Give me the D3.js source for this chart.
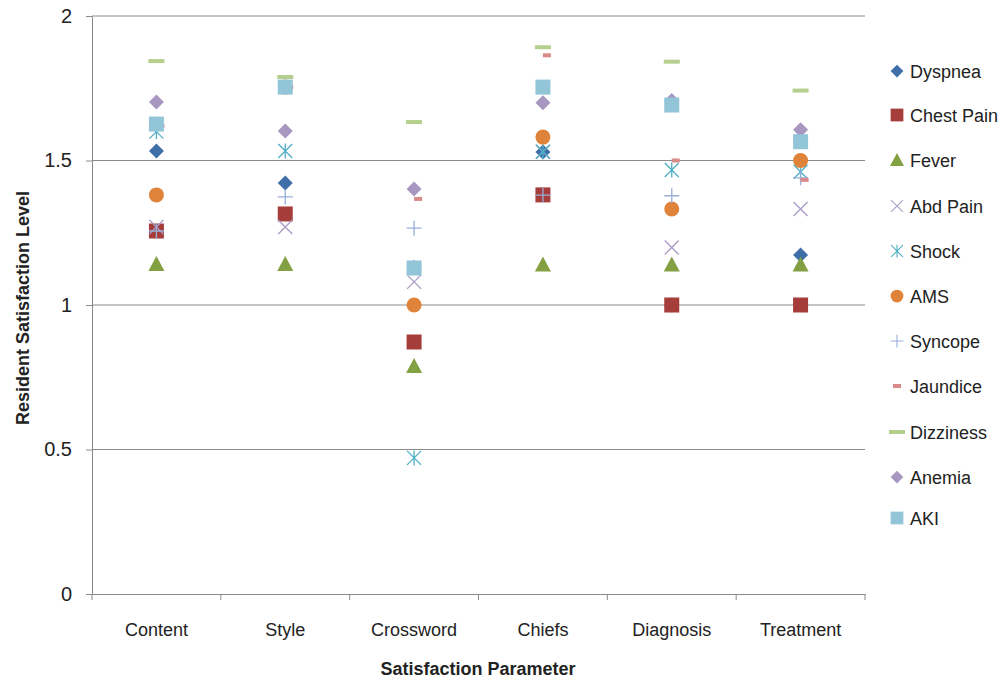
<!DOCTYPE html>
<html><head><meta charset="utf-8">
<script src="https://cdn.jsdelivr.net/npm/d3@7/dist/d3.min.js"></script>
<style>body{margin:0;background:#fff;font-family:"Liberation Sans",Arial,sans-serif;}</style>
</head><body><svg id="c" width="1002" height="683"></svg>
<script>
const categories = ["Content","Style","Crossword","Chiefs","Diagnosis","Treatment"];
const seriesNames = ["Dyspnea","Chest Pain","Fever","Abd Pain","Shock","AMS","Syncope","Jaundice","Dizziness","Anemia","AKI"];
const dyspnea   = [1.533,1.422,1.13,1.529,1.0,1.173];
const chestPain = [1.256,1.315,0.872,1.381,1.0,1.0];
const fever     = [1.142,1.142,0.789,1.140,1.140,1.140];
const abdPain   = [1.27,1.27,1.08,1.53,1.199,1.332];
const shock     = [1.60,1.533,0.471,1.53,1.467,1.461];
const ams       = [1.381,1.754,1.0,1.581,1.332,1.50];
const syncope   = [1.256,1.374,1.266,1.38,1.378,1.44];
const jaundice  = [1.62,1.754,1.367,1.864,1.50,1.433];
const dizziness = [1.844,1.789,1.633,1.892,1.842,1.742];
const anemia    = [1.702,1.602,1.401,1.70,1.708,1.606];
const aki       = [1.626,1.754,1.128,1.754,1.692,1.565];
const yTicks = [0,0.5,1,1.5,2];
const yTickLabels = ["0","0.5","1","1.5","2"];

const allValues = [dyspnea,chestPain,fever,abdPain,shock,ams,syncope,jaundice,dizziness,anemia,aki];
const styles = {
  "Dyspnea":{shape:"diamond",color:"#3F6FA9"},
  "Chest Pain":{shape:"square",color:"#A53D3B"},
  "Fever":{shape:"triangle",color:"#83A043"},
  "Abd Pain":{shape:"x",color:"#A99BC6"},
  "Shock":{shape:"star",color:"#4FAFC6"},
  "AMS":{shape:"circle",color:"#E0833A"},
  "Syncope":{shape:"plus",color:"#99AEDA"},
  "Jaundice":{shape:"sdash",color:"#D98A89"},
  "Dizziness":{shape:"dash",color:"#B5CF8F"},
  "Anemia":{shape:"diamond",color:"#A797C1"},
  "AKI":{shape:"square",color:"#92C5D7"}
};

const svg = d3.select("#c");
const L=92, R=865, T=16, B=594;
const FONT = "Liberation Sans, Arial, sans-serif";
const x = d3.scaleBand().domain(categories).range([L,R]).padding(0);
const y = d3.scaleLinear().domain([0,2]).range([B,T]);

// gridlines
svg.append("g").selectAll("line").data(yTicks.filter(d=>d>0)).join("line")
  .attr("x1",L).attr("x2",R).attr("y1",d=>y(d)).attr("y2",d=>y(d))
  .attr("stroke","#8a8a8a").attr("stroke-width",1);

// y axis
const ya = svg.append("g").attr("transform",`translate(${L},0)`)
  .call(d3.axisLeft(y).tickValues(yTicks).tickSize(6).tickPadding(14).tickFormat((d,i)=>yTickLabels[i]));
ya.select(".domain").attr("stroke","#8a8a8a");
ya.selectAll(".tick line").attr("stroke","#8a8a8a");
ya.selectAll("text").attr("font-size",20).attr("font-family",FONT).attr("fill","#222");

// x axis
const xa = svg.append("g").attr("transform",`translate(0,${B})`)
  .call(d3.axisBottom(x).tickSize(0).tickPadding(29));
xa.select(".domain").attr("stroke","#8a8a8a");
xa.selectAll("text").attr("font-size",18).attr("font-family",FONT).attr("fill","#222");
svg.append("g").selectAll("line").data(d3.range(categories.length+1)).join("line")
  .attr("x1",i=>L+i*x.bandwidth()).attr("x2",i=>L+i*x.bandwidth())
  .attr("y1",B).attr("y2",B+6).attr("stroke","#8a8a8a");

// titles
svg.append("text").attr("x",478).attr("y",675).attr("text-anchor","middle").attr("font-family",FONT)
  .attr("font-size",18).attr("font-weight","bold").attr("fill","#222").text("Satisfaction Parameter");
svg.append("text").attr("transform",`translate(29,${(188+428)/2}) rotate(-90)`).attr("text-anchor","middle").attr("font-family",FONT)
  .attr("font-size",18).attr("font-weight","bold").attr("fill","#222").text("Resident Satisfaction Level");

function drawMarker(g, shape, color, cx, cy){
  switch(shape){
    case "diamond":
      g.append("path").attr("d",`M${cx},${cy-7.5}L${cx+7.5},${cy}L${cx},${cy+7.5}L${cx-7.5},${cy}Z`).attr("fill",color); break;
    case "square":
      g.append("rect").attr("x",cx-7.5).attr("y",cy-7.5).attr("width",15).attr("height",15).attr("fill",color); break;
    case "triangle":
      g.append("path").attr("d",`M${cx},${cy-8}L${cx+8},${cy+7}L${cx-8},${cy+7}Z`).attr("fill",color); break;
    case "circle":
      g.append("circle").attr("cx",cx).attr("cy",cy).attr("r",7.5).attr("fill",color); break;
    case "x":
      g.append("path").attr("d",`M${cx-7},${cy-7}L${cx+7},${cy+7}M${cx+7},${cy-7}L${cx-7},${cy+7}`).attr("stroke",color).attr("stroke-width",1.3).attr("fill","none"); break;
    case "star":
      g.append("path").attr("d",`M${cx-7},${cy-7}L${cx+7},${cy+7}M${cx+7},${cy-7}L${cx-7},${cy+7}M${cx},${cy-7.5}L${cx},${cy+7.5}`).attr("stroke",color).attr("stroke-width",1.3).attr("fill","none"); break;
    case "plus":
      g.append("path").attr("d",`M${cx-7.5},${cy}L${cx+7.5},${cy}M${cx},${cy-7.5}L${cx},${cy+7.5}`).attr("stroke",color).attr("stroke-width",1.3).attr("fill","none"); break;
    case "dash":
      g.append("rect").attr("x",cx-8).attr("y",cy-2).attr("width",16).attr("height",4).attr("fill",color); break;
    case "sdash":
      g.append("rect").attr("x",cx).attr("y",cy-2).attr("width",8).attr("height",4).attr("fill",color); break;
  }
}

const plot = svg.append("g");
seriesNames.forEach((name,si)=>{
  const st = styles[name];
  const g = plot.append("g");
  allValues[si].forEach((v,ci)=>{
    drawMarker(g, st.shape, st.color, x(categories[ci])+x.bandwidth()/2, y(v));
  });
});

// legend
const lg = svg.append("g");
const legendY = [71,115,160,206,251,296,341,386,432,477,518];
seriesNames.forEach((name,i)=>{
  const st = styles[name];
  const g = lg.append("g");
  const cy = legendY[i];
  const sh = st.shape;
  if(sh==="sdash") drawMarker(g,"sdash",st.color,893,cy);
  else if(sh==="triangle") { g.append("path").attr("d",`M897,${cy-7}L904,${cy+6}L890,${cy+6}Z`).attr("fill",st.color); }
  else if(sh==="dash") { g.append("rect").attr("x",889).attr("y",cy-2).attr("width",16).attr("height",4).attr("fill",st.color); }
  else {
    const gg = g.append("g").attr("transform",`translate(897,${cy}) scale(0.85)`);
    drawMarker(gg, sh, st.color, 0, 0);
  }
  g.append("text").attr("x",910).attr("y",cy+6.5).attr("font-size",18).attr("font-family",FONT).attr("fill","#222").text(name);
});
</script></body></html>
